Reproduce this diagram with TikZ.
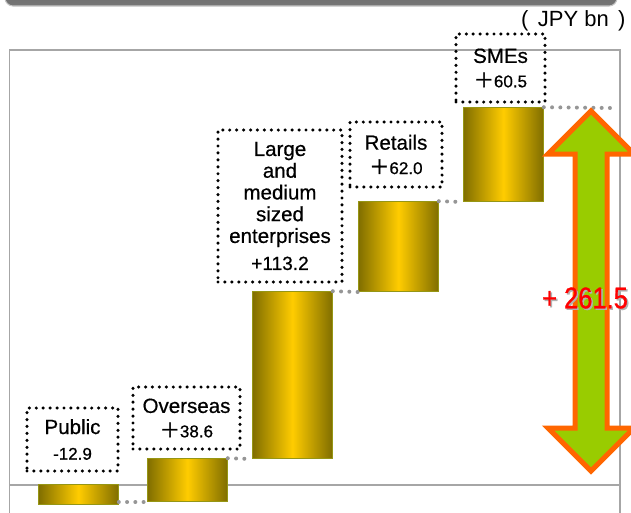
\documentclass[tikz,border=0pt]{standalone}
\usepackage{fontspec}
\setmainfont{Liberation Sans}
\newfontfamily\lblfont[FakeBold=0.6]{Liberation Sans}
\newfontfamily\plusfont[FakeBold=2]{Noto Sans CJK JP}
\newfontfamily\narrowfont[FakeStretch=0.85, FakeBold=0.8]{Liberation Sans}

\definecolor{barDark}{RGB}{128,110,0}
\definecolor{barLight}{RGB}{255,204,0}
\definecolor{barEdge}{RGB}{150,150,20}
\definecolor{arrowFill}{RGB}{153,204,0}
\definecolor{arrowEdge}{RGB}{255,102,0}
\definecolor{frameGray}{RGB}{166,166,166}
\definecolor{headGray}{RGB}{118,118,118}
\definecolor{dotGray}{RGB}{150,150,150}

\newcommand{\numsize}{\fontsize{12.75}{14}\selectfont}
\newcommand{\bigplus}{{\plusfont\fontsize{15}{15}\selectfont ＋}}

\begin{document}
\begin{tikzpicture}[x=0.75pt, y=-0.75pt, thick,
	bar/.style={draw=barEdge, line width=0.6pt, left color=barDark, right color=barDark, middle color=barLight, minimum width=60pt, inner sep=0pt, anchor=south west},
	lblbox/.style={draw, line width=2.6pt, dash pattern=on 0pt off 5.2pt, line cap=round, align=center, inner sep=0pt, font=\lblfont\fontsize{15.4}{16.3}\selectfont}]
	
	% Fix the page to the size of the slide crop.
	\useasboundingbox (0,0) rectangle (631,512);
	\clip (0,0) rectangle (631,512);
	
	\shade [top color=headGray!85!black, bottom color=headGray, draw=gray!45, line width=0.8pt, rounded corners=6pt] (5,-20) rectangle (617,6);
	\node [anchor=east, inner sep=0pt, font=\fontsize{16.5}{18}\selectfont] (unitLbl) at (626,21) {(\hspace{7pt}JPY bn\hspace{7pt})};
	
	\draw [frameGray, line width=1.1pt] (9.5,50) rectangle (620,530);
	\draw [frameGray, line width=1.1pt] (9.5,485) -- (620,485);
	
	\begin{scope}[every node/.style={bar}]
		\node [minimum height=15pt] (pubBar) at (38,505) {};
		\node [minimum height=32.25pt] (ovsBar) at (147,502) {};
		\node [minimum height=125.25pt] (lrgBar) at (252,459) {};
		\node [minimum height=67.5pt] (rtlBar) at (358,292) {};
		\node [minimum height=70.5pt] (smeBar) at (463,202) {};
	\end{scope}
	
	\coordinate (topEnd) at (611,108);
	
	\begin{scope}
		\tikzstyle{gapline}=[draw=dotGray, line width=3pt, dash pattern=on 0pt off 6.2pt, line cap=round]
		
		\draw [gapline] (pubBar.east |- ovsBar.south) -- (ovsBar.south west);
		\draw [gapline] (ovsBar.north east) -- (lrgBar.south west);
		\draw [gapline] (lrgBar.north east) -- (rtlBar.south west);
		\draw [gapline] (rtlBar.north east) -- (smeBar.south west);
		\draw [gapline] (smeBar.north east) -- (topEnd);
	\end{scope}
	
	\node [lblbox, minimum width=68.25pt, minimum height=47.25pt] (pubLbl) at (72.5,439.5)
		{Public\\[3pt]{\numsize -12.9}};
	\node [lblbox, minimum width=80.25pt, minimum height=46.5pt] (ovsLbl) at (186.5,418)
		{Overseas\\[2pt]{\numsize\bigplus 38.6}};
	\node [lblbox, minimum width=93pt, minimum height=114pt] (lrgLbl) at (280,206)
		{Large\\and\\medium\\sized\\enterprises\\[4pt]{\fontsize{14.3}{15}\selectfont +113.2}};
	\node [lblbox, minimum width=69pt, minimum height=48.75pt] (rtlLbl) at (396,154.5)
		{Retails\\[2pt]{\numsize\bigplus 62.0}};
	\node [lblbox, minimum width=66.75pt, minimum height=51pt] (smeLbl) at (500.5,68)
		{SMEs\\[2pt]{\numsize\bigplus 60.5}};
	
	% total growth arrow
	\draw [draw=arrowEdge, fill=arrowFill, line width=3.75pt, line join=miter]
		(591,111) -- (634,154) -- (607,154) -- (607,428) -- (634,428) -- (591,471)
		-- (548,428) -- (575,428) -- (575,154) -- (548,154) -- cycle;
	\node [text=gray!60, font=\narrowfont\fontsize{22.5}{24}\selectfont] (totalShadow) at (586.5,299.5) {+ 261.5};
	\node [text=red, font=\narrowfont\fontsize{22.5}{24}\selectfont] (totalLbl) at (585,298) {+ 261.5};
	
\end{tikzpicture}
\end{document}
